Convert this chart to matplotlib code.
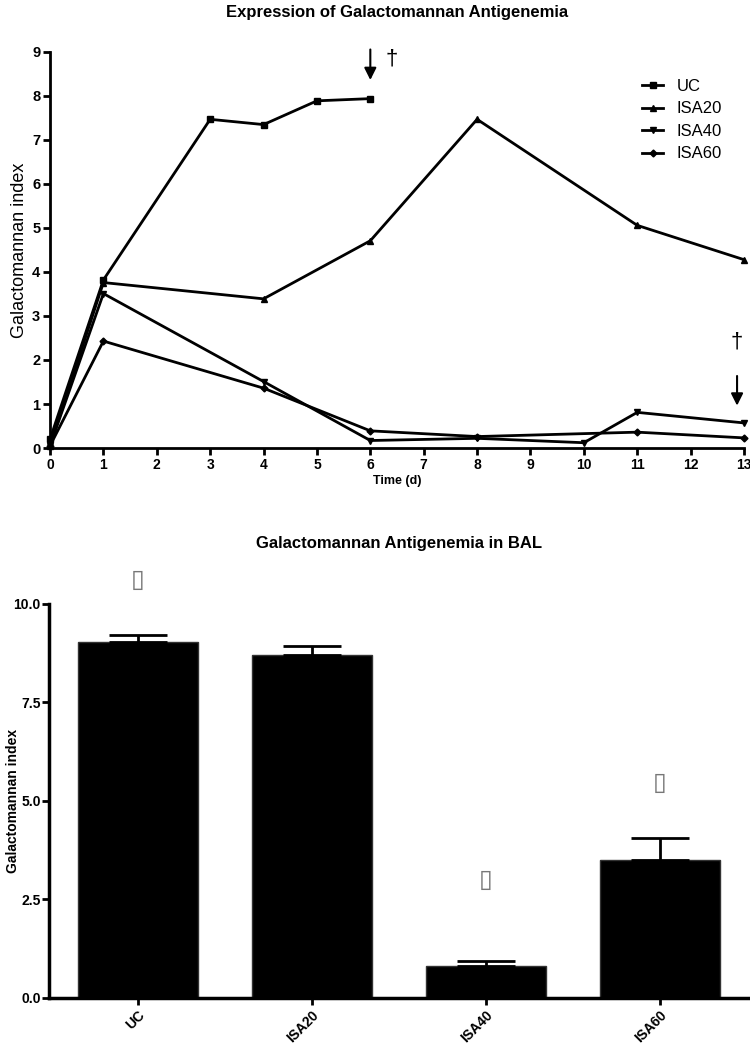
import numpy as np
import matplotlib.pyplot as plt

plt.rcParams['font.family'] = ['Liberation Sans', 'DejaVu Sans']

# top panel: serum galactomannan over time
uc_days = [0, 1, 3, 4, 5, 6]
uc_gm = [0.2, 3.82, 7.47, 7.35, 7.89, 7.94]
isa20_days = [0, 1, 4, 6, 8, 11, 13]
isa20_gm = [0.05, 3.76, 3.39, 4.71, 7.47, 5.06, 4.28]
isa40_days = [0, 1, 4, 6, 8, 10, 11, 13]
isa40_gm = [0.05, 3.51, 1.51, 0.17, 0.22, 0.12, 0.81, 0.57]
isa60_days = [0, 1, 4, 6, 8, 11, 13]
isa60_gm = [0.05, 2.43, 1.36, 0.39, 0.26, 0.36, 0.23]

# bottom panel: BAL galactomannan
groups = ['UC', 'ISA20', 'ISA40', 'ISA60']
bal_mean = [9.04, 8.71, 0.80, 3.51]
bal_err = [0.17, 0.23, 0.15, 0.54]
box_y = [10.6, None, 3.0, 5.46]

fig = plt.figure(figsize=(7.5, 10.46), dpi=100)

ax1 = fig.add_axes([0.0667, 0.5717, 0.9253, 0.3786])
series = [(uc_days, uc_gm, 's', 'UC'),
          (isa20_days, isa20_gm, '^', 'ISA20'),
          (isa40_days, isa40_gm, 'v', 'ISA40'),
          (isa60_days, isa60_gm, 'D', 'ISA60')]
for d, v, m, lab in series:
    ms = 3.5 if m == 'D' else 5
    ax1.plot(d, v, color='black', lw=2, marker=m, ms=ms, label=lab, clip_on=False)

ax1.set_xlim(0, 13)
ax1.set_ylim(0, 9)
ax1.set_xticks(range(0, 14))
ax1.set_yticks(range(0, 10))
for s in ['top', 'right']:
    ax1.spines[s].set_visible(False)
for s in ['left', 'bottom']:
    ax1.spines[s].set_linewidth(2)
ax1.tick_params(width=2, length=5, labelsize=10.5, pad=2)
ax1.tick_params(axis='x', labelsize=10)
for t in ax1.get_xticklabels() + ax1.get_yticklabels():
    t.set_fontweight('bold')
ax1.set_xlabel('Time (d)', fontsize=9, fontweight='bold', labelpad=2)
ax1.set_ylabel('Galactomannan index', fontsize=13, labelpad=3)
ax1.set_title('Expression of Galactomannan Antigenemia', fontsize=12,
              fontweight='bold', pad=25)
ax1.legend(loc='upper right', bbox_to_anchor=(0.99, 0.97), frameon=False,
           fontsize=12, handlelength=1.3, labelspacing=0.45)

# death markers
ax1.annotate('', xy=(6, 8.3), xytext=(6, 9.12), annotation_clip=False,
             arrowprops=dict(arrowstyle='-|>', color='black', lw=1.5,
                             mutation_scale=18))
ax1.text(6.4, 8.85, '†', fontsize=16, ha='center', va='center', clip_on=False)
ax1.annotate('', xy=(12.87, 0.9), xytext=(12.87, 1.7),
             arrowprops=dict(arrowstyle='-|>', color='black', lw=1.5,
                             mutation_scale=18))
ax1.text(12.87, 2.4, '†', fontsize=16, ha='center', va='center')

ax2 = fig.add_axes([0.0653, 0.0459, 0.9347, 0.3767])
x = np.arange(len(groups))
ax2.bar(x, bal_mean, width=0.69, color='black', edgecolor='#333333', lw=1)
ax2.errorbar(x, bal_mean, yerr=[np.zeros(len(x)), bal_err], fmt='none',
             ecolor='black', elinewidth=2, capsize=21, capthick=2)
for xi, yb in zip(x, box_y):
    if yb is not None:
        ax2.text(xi, yb, '\u25AF', fontsize=18, color='#777777',
                 ha='center', va='center', clip_on=False)
ax2.set_xlim(-0.51, 3.52)
ax2.set_ylim(0, 10)
ax2.set_yticks([0, 2.5, 5, 7.5, 10])
ax2.set_yticklabels(['0.0', '2.5', '5.0', '7.5', '10.0'])
ax2.set_xticks(x)
ax2.set_xticklabels(groups, rotation=45, ha='right', rotation_mode='anchor')
for s in ['top', 'right']:
    ax2.spines[s].set_visible(False)
for s in ['left', 'bottom']:
    ax2.spines[s].set_linewidth(2.5)
ax2.tick_params(width=2, length=5, labelsize=10, pad=1)
ax2.tick_params(axis='x', labelsize=10, pad=2)
for t in ax2.get_xticklabels() + ax2.get_yticklabels():
    t.set_fontweight('bold')
ax2.set_ylabel('Galactomannan index', fontsize=10, fontweight='bold')
ax2.yaxis.set_label_coords(-0.042, 0.5)
ax2.set_title('Galactomannan Antigenemia in BAL', fontsize=12,
              fontweight='bold', pad=40)

fig.savefig('out.png', dpi=100)
